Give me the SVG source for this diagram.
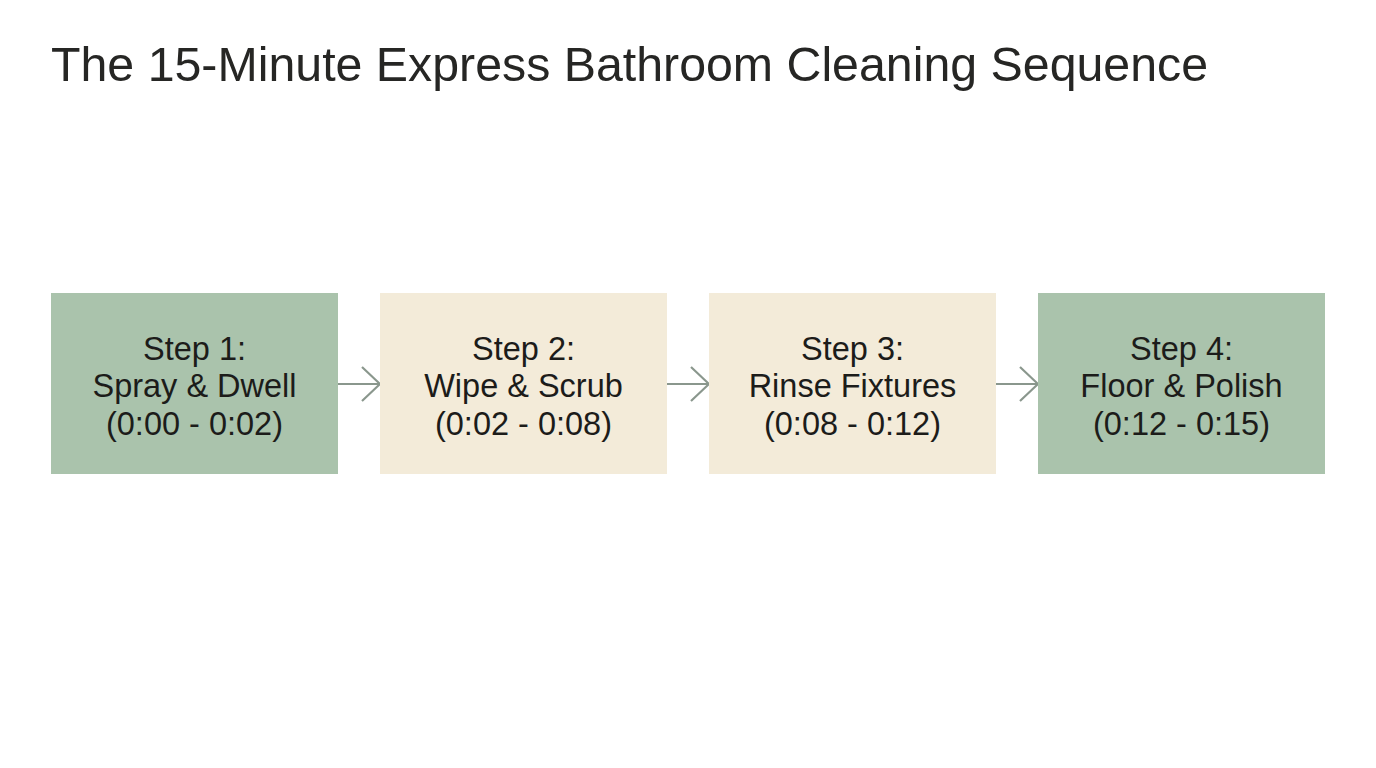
<svg xmlns="http://www.w3.org/2000/svg" width="1376" height="768" viewBox="0 0 1376 768">
<defs>
<style>
.title{font-family:"Liberation Sans",Arial,sans-serif;font-size:48.3px;fill:#262624}
.lbl{font-family:"Liberation Sans",Arial,sans-serif;font-size:32.5px;fill:#1c1c1a;text-anchor:middle}
.green{fill:#aac3ac}
.cream{fill:#f3ebd9}
.conn{stroke:#8a978d;stroke-width:2.2;fill:none}
</style>
<marker id="ah" viewBox="0 0 20 36" refX="19" refY="18" markerWidth="20" markerHeight="36" markerUnits="userSpaceOnUse" orient="auto">
<path d="M1,1 L19,18 L1,35" fill="none" stroke="#8a978d" stroke-width="2.2"/>
</marker>
</defs>
<rect width="1376" height="768" fill="#ffffff"/>
<text class="title" x="51" y="81">The 15-Minute Express Bathroom Cleaning Sequence</text>
<g id="connectors">
<line class="conn" x1="338" y1="384" x2="380" y2="384" marker-end="url(#ah)"/>
<line class="conn" x1="667" y1="384" x2="709" y2="384" marker-end="url(#ah)"/>
<line class="conn" x1="996" y1="384" x2="1038" y2="384" marker-end="url(#ah)"/>
</g>
<g id="step1">
<rect class="green" x="51" y="293" width="287" height="181"/>
<text class="lbl" x="194.5" y="359.5">Step 1:</text>
<text class="lbl" x="194.5" y="397">Spray &amp; Dwell</text>
<text class="lbl" x="194.5" y="434.5">(0:00 - 0:02)</text>
</g>
<g id="step2">
<rect class="cream" x="380" y="293" width="287" height="181"/>
<text class="lbl" x="523.5" y="359.5">Step 2:</text>
<text class="lbl" x="523.5" y="397">Wipe &amp; Scrub</text>
<text class="lbl" x="523.5" y="434.5">(0:02 - 0:08)</text>
</g>
<g id="step3">
<rect class="cream" x="709" y="293" width="287" height="181"/>
<text class="lbl" x="852.5" y="359.5">Step 3:</text>
<text class="lbl" x="852.5" y="397">Rinse Fixtures</text>
<text class="lbl" x="852.5" y="434.5">(0:08 - 0:12)</text>
</g>
<g id="step4">
<rect class="green" x="1038" y="293" width="287" height="181"/>
<text class="lbl" x="1181.5" y="359.5">Step 4:</text>
<text class="lbl" x="1181.5" y="397">Floor &amp; Polish</text>
<text class="lbl" x="1181.5" y="434.5">(0:12 - 0:15)</text>
</g>
</svg>
